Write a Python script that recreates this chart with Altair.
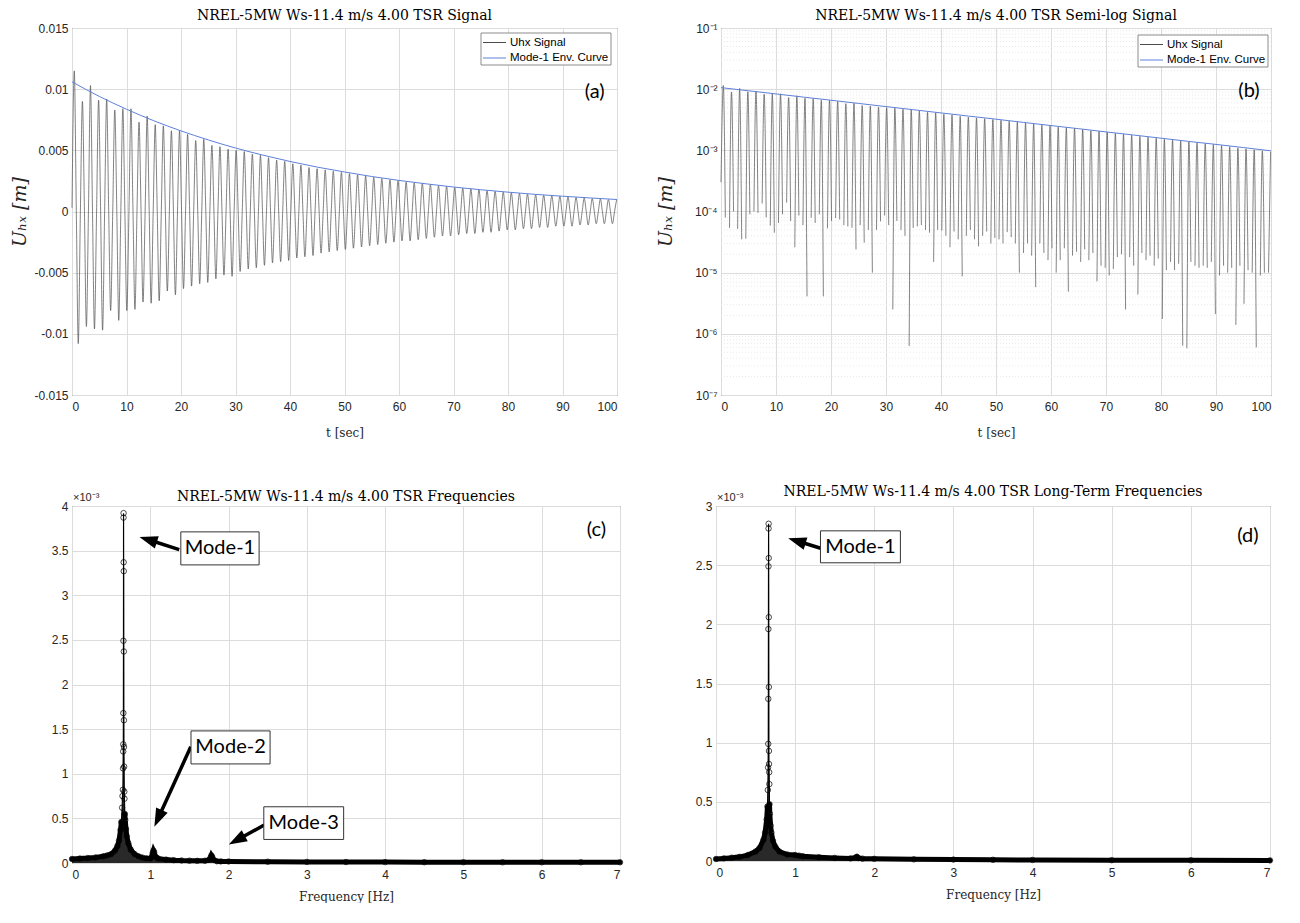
import math
import altair as alt
import pandas as pd

# ---------------- values ----------------
# time-domain signal: zero crossings (small sampled values), peaks and troughs
t_up = [0.00, 1.54, 3.02, 4.51, 5.99, 7.48, 8.96, 10.45, 11.93, 13.42, 14.90, 16.39, 17.87, 19.36,
        20.84, 22.33, 23.81, 25.30, 26.78, 28.27, 29.75, 31.24, 32.72, 34.21, 35.69, 37.18, 38.66,
        40.15, 41.63, 43.12, 44.60, 46.09, 47.57, 49.06, 50.54, 52.03, 53.51, 55.00, 56.48, 57.97,
        59.45, 60.94, 62.42, 63.91, 65.39, 66.88, 68.36, 69.85, 71.33, 72.82, 74.30, 75.79, 77.27,
        78.76, 80.24, 81.73, 83.21, 84.70, 86.18, 87.67, 89.15, 90.64, 92.12, 93.61, 95.09, 96.58,
        98.06, 99.55]
d_up = [3e-4, 5.4e-5, 5.2e-5, 3.6e-5, 1.0e-4, 1.35e-4, 5.9e-5, 6.5e-5, 1.4e-4, 2.6e-5, 6e-5, 7.9e-5,
        9e-5, 5.3e-5, 7.8e-5, 6e-5, 5.4e-5, 6e-5, 5e-5, 5e-5, 8.6e-5, 2.5e-6, 5e-5, 6.3e-7, 5.7e-5,
        5e-5, 1.5e-5, 4.9e-5, 2.6e-5, 3.5e-5, 4.0e-5, 3.5e-5, 4e-5, 3e-5, 3.5e-5, 4.6e-5, 3e-5, 2.1e-5,
        1.9e-5, 3e-5, 1.6e-5, 1.0e-5, 2.5e-5, 1.9e-5, 1.5e-5, 1.6e-5, 7.2e-6, 1.2e-5, 1.15e-5, 2e-5,
        1.8e-5, 4.4e-6, 1.6e-5, 1.3e-5, 1.75e-6, 1.5e-5, 1.4e-5, 5.8e-7, 1.3e-5, 1.3e-5, 1.5e-5, 9e-6,
        1e-5, 1.4e-6, 3.1e-6, 1e-5, 9e-6, 1e-5]
t_peak = [0.42, 1.91, 3.39, 4.88, 6.36, 7.85, 9.33, 10.82, 12.30, 13.79, 15.27, 16.76, 18.24, 19.73,
          21.21, 22.70, 24.18, 25.67, 27.15, 28.64, 30.12, 31.61, 33.09, 34.58, 36.06, 37.55, 39.03,
          40.52, 42.00, 43.49, 44.97, 46.46, 47.94, 49.43, 50.91, 52.40, 53.88, 55.37, 56.85, 58.34,
          59.82, 61.31, 62.79, 64.28, 65.76, 67.25, 68.73, 70.22, 71.70, 73.19, 74.67, 76.16, 77.64,
          79.13, 80.61, 82.10, 83.58, 85.07, 86.55, 88.04, 89.52, 91.01, 92.49, 93.98, 95.46, 96.95,
          98.43, 99.92]
u_peak = [0.0115, 0.0090, 0.0103, 0.0091, 0.0092, 0.0083, 0.0084, 0.0084, 0.0073, 0.0078, 0.0071,
          0.0070, 0.0066, 0.0066, 0.0063, 0.0058, 0.0059, 0.0054, 0.0053, 0.0051, 0.0050, 0.0049,
          0.0047, 0.0046, 0.0044, 0.0042, 0.0041, 0.0039, 0.0038, 0.0036, 0.0035, 0.0034, 0.0033,
          0.0032, 0.0031, 0.0030, 0.0029, 0.0028, 0.0027, 0.0026, 0.00252, 0.0024, 0.00235, 0.0023,
          0.0022, 0.0021, 0.00205, 0.00198, 0.0019, 0.00185, 0.00178, 0.0017, 0.00165, 0.00158,
          0.00152, 0.00147, 0.00142, 0.00138, 0.00133, 0.00129, 0.00125, 0.0012, 0.00115, 0.0011,
          0.00106, 0.00102, 0.00098, 0.00095]
t_down = [0.79, 2.28, 3.76, 5.25, 6.73, 8.22, 9.70, 11.19, 12.67, 14.16, 15.64, 17.13, 18.61, 20.10,
          21.58, 23.07, 24.55, 26.04, 27.52, 29.01, 30.49, 31.98, 33.46, 34.95, 36.43, 37.92, 39.40,
          40.89, 42.37, 43.86, 45.34, 46.83, 48.31, 49.80, 51.28, 52.77, 54.25, 55.74, 57.22, 58.71,
          60.19, 61.68, 63.16, 64.65, 66.13, 67.62, 69.10, 70.59, 72.07, 73.56, 75.04, 76.53, 78.01,
          79.50, 80.98, 82.47, 83.95, 85.44, 86.92, 88.41, 89.89, 91.38, 92.86, 94.35, 95.83, 97.32,
          98.80]
d_down = [8e-5, 1.0e-4, 3.5e-5, 9e-5, 9.5e-5, 8e-5, 4.5e-5, 9e-5, 7e-5, 8.6e-5, 4.1e-6, 6.5e-5,
          4.1e-6, 7e-5, 7.4e-5, 5.7e-5, 2.4e-5, 3.1e-5, 1.0e-5, 6.9e-5, 6e-5, 7e-5, 4e-5, 5.4e-5, 6e-5,
          4.5e-5, 5e-5, 4e-5, 4.7e-5, 8.7e-6, 5e-5, 2.7e-5, 4.7e-5, 3.7e-5, 3e-5, 3.8e-5, 1e-5, 3e-5,
          5.8e-6, 2.1e-5, 2.5e-5, 1.6e-5, 4.9e-6, 2.2e-5, 2.4e-5, 2.1e-5, 1.3e-5, 9e-6, 1.8e-5, 2.5e-6,
          1.3e-5, 2.1e-5, 1.9e-5, 1.7e-5, 1.1e-5, 1.1e-5, 6.4e-7, 1.5e-5, 1.2e-5, 1.2e-5, 2.1e-6,
          1.3e-5, 1.2e-5, 1.3e-5, 1.1e-5, 6e-7, 1e-5]
t_trough = [1.15, 2.64, 4.12, 5.61, 7.09, 8.58, 10.06, 11.55, 13.03, 14.52, 16.00, 17.49, 18.97,
            20.46, 21.94, 23.43, 24.91, 26.40, 27.88, 29.37, 30.85, 32.34, 33.82, 35.31, 36.79,
            38.28, 39.76, 41.25, 42.73, 44.22, 45.70, 47.19, 48.67, 50.16, 51.64, 53.13, 54.61,
            56.10, 57.58, 59.07, 60.55, 62.04, 63.52, 65.01, 66.49, 67.98, 69.46, 70.95, 72.43,
            73.92, 75.40, 76.89, 78.37, 79.86, 81.34, 82.83, 84.31, 85.80, 87.28, 88.77, 90.25,
            91.74, 93.22, 94.71, 96.19, 97.68, 99.16]
u_trough = [-0.0108, -0.0094, -0.0096, -0.0097, -0.0081, -0.0089, -0.0081, -0.0080, -0.0074, -0.0075,
            -0.0073, -0.0065, -0.0068, -0.0063, -0.0061, -0.0059, -0.0058, -0.0055, -0.0052, -0.0053,
            -0.0049, -0.0047, -0.0046, -0.0044, -0.0042, -0.0041, -0.0040, -0.0038, -0.0037, -0.0036,
            -0.0034, -0.0033, -0.0032, -0.0031, -0.0030, -0.0029, -0.0028, -0.0027, -0.0026, -0.0025,
            -0.0024, -0.0024, -0.0023, -0.0022, -0.0021, -0.0020, -0.0020, -0.0019, -0.0018, -0.0018,
            -0.0017, -0.0017, -0.0016, -0.0015, -0.0015, -0.0014, -0.0014, -0.0013, -0.0013, -0.0012,
            -0.0012, -0.0012, -0.0011, -0.0011, -0.0010, -0.0010, -0.0010]

# Mode-1 envelope curve
env_t = [0, 5, 10, 15, 20, 25, 30, 35, 40, 45, 50, 55, 60, 65, 70, 75, 80, 85, 90, 95, 100]
env_u = [0.01060, 0.00941, 0.00836, 0.00742, 0.00659, 0.00585, 0.00519, 0.00461, 0.00409, 0.00363,
         0.00323, 0.00286, 0.00254, 0.00226, 0.00200, 0.00178, 0.00158, 0.00140, 0.00125, 0.00111,
         0.00098]

# spectrum (c), amplitudes in units of 1e-3
fc = [0.00, 0.10, 0.20, 0.30, 0.40, 0.45, 0.50, 0.55, 0.58, 0.60, 0.62, 0.63, 0.64, 0.645, 0.650,
      0.652, 0.654, 0.655, 0.656, 0.657, 0.658, 0.659, 0.660, 0.661, 0.662, 0.663, 0.664, 0.666,
      0.668, 0.670, 0.675, 0.68, 0.69, 0.70, 0.72, 0.75, 0.80, 0.85, 0.90, 0.95, 1.00, 1.02, 1.03,
      1.04, 1.05, 1.06, 1.08, 1.10, 1.20, 1.30, 1.40, 1.50, 1.60, 1.70, 1.75, 1.77, 1.78, 1.79,
      1.81, 1.85, 1.90, 2.0, 2.5, 3.0, 3.5, 4.0, 4.5, 5.0, 5.5, 6.0, 6.5, 7.0]
ac = [0.045, 0.05, 0.055, 0.062, 0.075, 0.085, 0.10, 0.14, 0.19, 0.25, 0.37, 0.46, 0.62, 0.75, 0.82,
      1.06, 1.25, 1.33, 1.68, 2.49, 3.87, 3.92, 3.37, 3.27, 2.37, 1.60, 1.30, 1.08, 0.80, 0.72,
      0.55, 0.48, 0.38, 0.30, 0.22, 0.15, 0.10, 0.075, 0.06, 0.052, 0.05, 0.07, 0.11, 0.14, 0.12,
      0.08, 0.06, 0.05, 0.038, 0.032, 0.028, 0.026, 0.024, 0.025, 0.035, 0.06, 0.085, 0.07, 0.035,
      0.02, 0.018, 0.017, 0.014, 0.012, 0.011, 0.010, 0.009, 0.009, 0.008, 0.008, 0.008, 0.008]

# spectrum (d), amplitudes in units of 1e-3
fd = [0.00, 0.10, 0.20, 0.30, 0.40, 0.50, 0.55, 0.60, 0.62, 0.64, 0.650, 0.655, 0.658, 0.660, 0.661,
      0.662, 0.663, 0.664, 0.665, 0.666, 0.667, 0.668, 0.669, 0.670, 0.672, 0.674, 0.676, 0.680,
      0.69, 0.70, 0.72, 0.75, 0.80, 0.90, 1.00, 1.05, 1.10, 1.30, 1.50, 1.70, 1.76, 1.78, 1.80,
      1.85, 2.0, 2.5, 3.0, 3.5, 4.0, 5.0, 6.0, 7.0]
ad = [0.017, 0.022, 0.028, 0.035, 0.05, 0.08, 0.11, 0.18, 0.24, 0.35, 0.46, 0.60, 0.79, 0.99, 1.37,
      1.96, 2.49, 2.81, 2.85, 2.56, 2.06, 1.47, 0.93, 0.82, 0.75, 0.65, 0.48, 0.40, 0.30, 0.24,
      0.17, 0.12, 0.08, 0.055, 0.05, 0.045, 0.04, 0.032, 0.026, 0.022, 0.028, 0.036, 0.025, 0.02,
      0.018, 0.014, 0.012, 0.01, 0.009, 0.007, 0.006, 0.005]

series_names = ["Uhx Signal", "Mode-1 Env. Curve"]
panel_titles = ["NREL-5MW Ws-11.4 m/s 4.00 TSR Signal",
                "NREL-5MW Ws-11.4 m/s 4.00 TSR Semi-log Signal",
                "NREL-5MW Ws-11.4 m/s 4.00 TSR Frequencies",
                "NREL-5MW Ws-11.4 m/s 4.00 TSR Long-Term Frequencies"]
panel_tags = ["(a)", "(b)", "(c)", "(d)"]
tag_x = [95.9, 96.0, 6.70, 6.72]
tag_y = [0.0098, 0.0094, 3.73, 2.75]

# annotations (c) and (d), data coordinates
c_box_label = ["Mode-1", "Mode-2", "Mode-3"]
c_box_f0 = [1.39, 1.52, 2.45]
c_box_f1 = [2.39, 2.53, 3.47]
c_box_a0 = [3.34, 1.11, 0.264]
c_box_a1 = [3.71, 1.48, 0.63]
c_tail_f = [1.37, 1.517, 2.455]
c_tail_a = [3.512, 1.302, 0.425]
c_tip_f = [0.862, 1.052, 2.003]
c_tip_a = [3.654, 0.406, 0.208]

d_box_label = ["Mode-1"]
d_box_f0 = [1.32]
d_box_f1 = [2.33]
d_box_a0 = [2.52]
d_box_a1 = [2.79]
d_tail_f = [1.322]
d_tail_a = [2.643]
d_tip_f = [0.912]
d_tip_a = [2.728]

# ---------------- styles ----------------
SIG = "#4d4d4d"
ENV = "#5f80d8"
SERIF = "DejaVu Serif"
SANS = "Liberation Sans"
ANN = "Lato"
WA, HA = 545, 367
WB, HB = 550, 367
WC, HC = 548, 357
WD, HD = 554, 355
ARROW = "M0,0 L-0.7,2 L0.7,2 Z"
ONE = pd.DataFrame({"k": [0]})

# ---------------- tables ----------------
rows_a, rows_b = [], []
n_pk = min(len(t_up), len(d_up), len(t_peak), len(u_peak))
n_dn = min(len(t_down), len(d_down), len(t_trough), len(u_trough))
for k in range(n_pk):
    rows_a.append((t_up[k], d_up[k]))
    rows_a.append((t_peak[k], u_peak[k]))
    rows_b.append((t_up[k], d_up[k], k))
    rows_b.append((t_peak[k], u_peak[k], k))
    if k < n_dn:
        rows_a.append((t_down[k], d_down[k]))
        rows_a.append((t_trough[k], u_trough[k]))
        rows_b.append((t_down[k], d_down[k], k))
sig_a = pd.DataFrame(rows_a, columns=["t", "u"])
sig_b = pd.DataFrame(rows_b, columns=["t", "u", "arch"])
env = pd.DataFrame({"t": env_t, "u": env_u})


def spec_table(f, a):
    df = pd.DataFrame({"f": f, "a": a})
    pk = f[a.index(max(a))]
    df["side"] = ["L" if v < pk else "R" for v in f]
    return df


def arrow_table(tf, ta, hf, ha, w, h, fmax, amax):
    ppx, ppy = w / fmax, h / amax
    rows = []
    for f0, a0, f1, a1 in zip(tf, ta, hf, ha):
        dx, dy = (f1 - f0) * ppx, (a1 - a0) * ppy
        ln = math.hypot(dx, dy)
        ang = math.degrees(math.atan2(dx, dy)) % 360
        ef = f1 - dx / ln * 12 / ppx
        ea = a1 - dy / ln * 12 / ppy
        rows.append({"f0": f0, "a0": a0, "f1": ef, "a1": ea, "ft": f1, "at": a1, "ang": ang})
    return pd.DataFrame(rows)


def title_layer(i, w, yoff):
    return alt.Chart(ONE).mark_text(font=SERIF, fontSize=14, align="center", baseline="middle",
                                    color="black").encode(
        x=alt.value(w / 2), y=alt.value(yoff), text=alt.value(panel_titles[i]))


def legend_layers(w, right, top):
    x1 = w - right
    x0 = x1 - 130
    out = [alt.Chart(ONE).mark_rect(fill="white", stroke="#8c8c8c", strokeWidth=1).encode(
        x=alt.value(x0), x2=alt.value(x1), y=alt.value(top), y2=alt.value(top + 32))]
    for i, (name, col) in enumerate(zip(series_names, [SIG, ENV])):
        yy = top + 9.5 + 15.5 * i
        out.append(alt.Chart(ONE).mark_rule(color=col, strokeWidth=1).encode(
            x=alt.value(x0 + 2), x2=alt.value(x0 + 25), y=alt.value(yy)))
        out.append(alt.Chart(ONE).mark_text(align="left", baseline="middle", font=SANS,
                                            fontSize=11.5, color="black").encode(
            x=alt.value(x0 + 29), y=alt.value(yy), text=alt.value(name)))
    return out


def x_axis():
    return alt.Axis(values=list(range(0, 101, 10)), labelPadding=6, titlePadding=15,
                    labelFont=SANS, labelFontSize=12, labelColor="#262626", titleFont=SERIF,
                    titleFontSize=12, titleFontWeight="normal", titleColor="#262626")


tag_df = pd.DataFrame({"x": tag_x, "y": tag_y, "s": panel_tags})


# ---------------- panel (a) ----------------
def xa(field):
    return alt.X(field, type="quantitative", scale=alt.Scale(domain=[0, 100], nice=False),
                 axis=x_axis(), title="t [sec]")


def ya(field):
    return alt.Y(field, type="quantitative", scale=alt.Scale(domain=[-0.015, 0.015], nice=False),
                 axis=alt.Axis(values=[-0.015, -0.01, -0.005, 0, 0.005, 0.01, 0.015],
                               labelExpr="replace(format(datum.value, '~g'), '\u2212', '-')",
                               labelFont=SANS, labelFontSize=12, labelColor="#262626",
                               titleFont=SERIF, titleFontStyle="italic", titleFontSize=19,
                               titleFontWeight="normal", titleColor="#262626",
                               minExtent=34, titlePadding=4, labelPadding=4),
                 title="U\u2095\u2093 [m]")


a_sig = alt.Chart(sig_a).mark_line(strokeWidth=0.7, interpolate="monotone", color=SIG).encode(
    x=xa("t"), y=ya("u"))
a_env = alt.Chart(env).mark_line(strokeWidth=1, interpolate="monotone", color=ENV).encode(
    x=xa("t"), y=ya("u"))
a_tag = alt.Chart(tag_df.iloc[[0]]).mark_text(font=ANN, fontSize=20, color="black").encode(
    x=xa("x"), y=ya("y"), text="s:N")
panel_a = alt.layer(a_sig, a_env, a_tag, title_layer(0, WA, -12),
                    *legend_layers(WA, 6, 5)).properties(width=WA, height=HA)

# ---------------- panel (b) ----------------
decades = [1e-7, 1e-6, 1e-5, 1e-4, 1e-3, 1e-2, 1e-1]
minor = pd.DataFrame({"v": [m * d for d in decades[:-1] for m in range(2, 10)]})
sup_expr = ("['10\u207b\u2077','10\u207b\u2076','10\u207b\u2075','10\u207b\u2074','10\u207b\u00b3',"
            "'10\u207b\u00b2','10\u207b\u00b9'][round(log(datum.value)/LN10)+7]")


def xb(field):
    return alt.X(field, type="quantitative", scale=alt.Scale(domain=[0, 100], nice=False),
                 axis=x_axis(), title="t [sec]")


def yb(field):
    return alt.Y(field, type="quantitative",
                 scale=alt.Scale(type="log", domain=[1e-7, 1e-1], nice=False),
                 axis=alt.Axis(values=decades, labelExpr=sup_expr, labelFont=SANS,
                               labelFontSize=12, labelColor="#262626", titleFont=SERIF,
                               titleFontStyle="italic", titleFontSize=19, titleFontWeight="normal",
                               titleColor="#262626", minExtent=44, titlePadding=2, labelPadding=4),
                 title="U\u2095\u2093 [m]")


b_minor = alt.Chart(minor).mark_rule(color="#e4e4e4", strokeDash=[1, 2], strokeWidth=0.8).encode(
    y=yb("v"))
b_sig = alt.Chart(sig_b).mark_line(strokeWidth=0.7, interpolate="monotone", color=SIG).encode(
    x=xb("t"), y=yb("u"), detail="arch:N")
b_env = alt.Chart(env).mark_line(strokeWidth=1, color=ENV).encode(x=xb("t"), y=yb("u"))
b_tag = alt.Chart(tag_df.iloc[[1]]).mark_text(font=ANN, fontSize=20, color="black").encode(
    x=xb("x"), y=yb("y"), text="s:N")
panel_b = alt.layer(b_minor, b_sig, b_env, b_tag, title_layer(1, WB, -12),
                    *legend_layers(WB, 3, 7)).properties(width=WB, height=HB)


# ---------------- panels (c), (d) ----------------
def spectrum_panel(f, a, amax, w, h, ti, t_y, tagi, boxes, arrows, y_ext):
    yvals = [v / 2 for v in range(0, int(amax * 2) + 1)]

    def X(field):
        return alt.X(field, type="quantitative", scale=alt.Scale(domain=[0, 7], nice=False),
                     axis=alt.Axis(values=list(range(8)), labelPadding=6, titlePadding=11,
                                   labelFont=SANS, labelFontSize=12, labelColor="#262626",
                                   titleFont=SERIF, titleFontSize=12, titleFontWeight="normal",
                                   titleColor="#262626"),
                     title="Frequency [Hz]")

    def Y(field):
        return alt.Y(field, type="quantitative", scale=alt.Scale(domain=[0, amax], nice=False),
                     axis=alt.Axis(values=yvals, format="~g", minExtent=y_ext, labelPadding=4,
                                   labelFont=SANS, labelFontSize=12, labelColor="#262626"),
                     title=None)

    df = spec_table(f, a)
    area = alt.Chart(df).mark_area(color="#1e1e1e", opacity=0.95).encode(x=X("f"), y=Y("a"))
    band = alt.Chart(df).transform_filter("datum.a < 0.6").mark_line(
        color="black", strokeWidth=5, strokeCap="round").encode(x=X("f"), y=Y("a"), detail="side:N")
    line = alt.Chart(df).mark_line(color="black", strokeWidth=1.1).encode(x=X("f"), y=Y("a"))
    pts = alt.Chart(df).mark_point(shape="circle", filled=False, color="black", size=30,
                                   strokeWidth=0.7, opacity=1).encode(x=X("f"), y=Y("a"))
    shaft = alt.Chart(arrows).mark_rule(color="black", strokeWidth=3.5).encode(
        x=X("f0"), x2="f1:Q", y=Y("a0"), y2="a1:Q")
    head = alt.Chart(arrows).mark_point(shape=ARROW, filled=True, color="black", size=330,
                                        strokeWidth=0, opacity=1).encode(
        x=X("ft"), y=Y("at"), angle=alt.Angle("ang:Q", scale=None))
    box = alt.Chart(boxes).mark_rect(fill="white", stroke="#333333", strokeWidth=1).encode(
        x=X("x0"), x2="x1:Q", y=Y("y0"), y2="y1:Q")
    btxt = alt.Chart(boxes).mark_text(font=ANN, fontSize=20, color="black").encode(
        x=X("cx"), y=Y("cy"), text="label:N")
    tag = alt.Chart(tag_df.iloc[[tagi]]).mark_text(font=ANN, fontSize=20, color="black").encode(
        x=X("x"), y=Y("y"), text="s:N")
    expo = alt.Chart(ONE).mark_text(align="left", baseline="alphabetic", font=SANS, fontSize=11,
                                    color="#262626").encode(
        x=alt.value(1), y=alt.value(-5), text=alt.value("\u00d710\u207b\u00b3"))
    return alt.layer(area, band, line, pts, shaft, head, box, btxt, tag, expo,
                     title_layer(ti, w, t_y)).properties(width=w, height=h)


def box_table(lab, f0, f1, a0, a1):
    return pd.DataFrame({"label": lab, "x0": f0, "x1": f1, "y0": a0, "y1": a1,
                         "cx": [(p + q) / 2 for p, q in zip(f0, f1)],
                         "cy": [(p + q) / 2 for p, q in zip(a0, a1)]})


panel_c = spectrum_panel(fc, ac, 4, WC, HC, 2, -9, 2,
                         box_table(c_box_label, c_box_f0, c_box_f1, c_box_a0, c_box_a1),
                         arrow_table(c_tail_f, c_tail_a, c_tip_f, c_tip_a, WC, HC, 7, 4), 54)
panel_d = spectrum_panel(fd, ad, 3, WD, HD, 3, -14, 3,
                         box_table(d_box_label, d_box_f0, d_box_f1, d_box_a0, d_box_a1),
                         arrow_table(d_tail_f, d_tail_a, d_tip_f, d_tip_a, WD, HD, 7, 3), 24)

row1 = alt.hconcat(panel_a, panel_b, spacing=35)
row2 = alt.hconcat(panel_c, panel_d, spacing=60)

chart = alt.vconcat(row1, row2, spacing=45).properties(
    padding={"left": 2, "top": 0, "right": 0, "bottom": 0}, background="white"
).configure_view(stroke="#4d4d4d", strokeWidth=1).configure_axis(
    gridColor="#dcdcdc", gridWidth=1, domain=False, ticks=False
)

chart.save("out.html", embed_options={"renderer": "svg", "actions": False})
